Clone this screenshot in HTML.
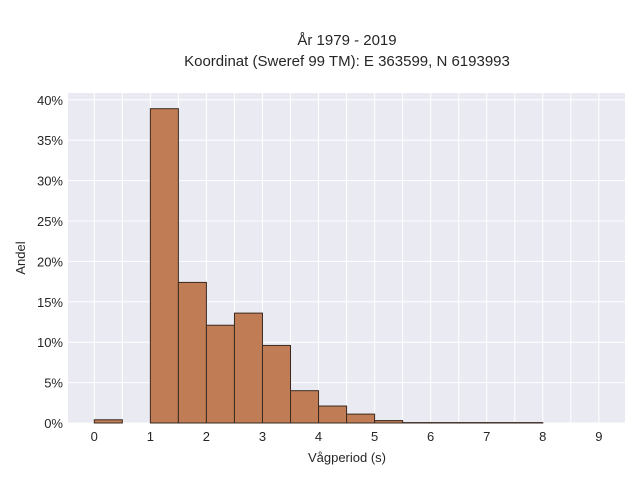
<!DOCTYPE html>
<html><head><meta charset="utf-8"><style>
body{margin:0;background:#fff;font-family:"Liberation Sans",sans-serif;}
svg text{font-family:"Liberation Sans",sans-serif;fill:#262626;}
</style></head><body>
<svg id="chart" width="640" height="480">
<text x="347" y="45" text-anchor="middle" font-size="15">År 1979 - 2019</text>
<text x="347" y="66" text-anchor="middle" font-size="15">Koordinat (Sweref 99 TM): E 363599, N 6193993</text>
<rect x="68" y="93" width="557" height="330" fill="#eaeaf2"/>
<g id="grid"></g><g id="bars"></g><g id="ticks"></g>
<text x="347" y="462" text-anchor="middle" font-size="13">Vågperiod (s)</text>
<text x="25" y="258" text-anchor="middle" font-size="13" transform="rotate(-90 25 258)">Andel</text>
</svg>
<script>
const binStarts=[0,0.5,1,1.5,2,2.5,3,3.5,4,4.5,5,5.5,6,6.5,7,7.5];
const binValues=[0.4,0,38.9,17.4,12.1,13.6,9.6,4.0,2.1,1.1,0.3,0.05,0.05,0.05,0.05,0.05];
const binWidth=0.5;
const xTicks=[0,1,2,3,4,5,6,7,8,9];
const yTicks=[0,5,10,15,20,25,30,35,40];
const yTickLabels=["0%","5%","10%","15%","20%","25%","30%","35%","40%"];
const X=v=>94.3+v*56.06, Y=v=>423-v*8.08;
const ns="http://www.w3.org/2000/svg";
function mk(t,a,p){const e=document.createElementNS(ns,t);for(const k in a)e.setAttribute(k,a[k]);document.getElementById(p).appendChild(e);return e;}
for(let v=-0.5;v<=9.5;v+=0.5){const x=X(v);if(x<68||x>625)continue;
 const l=mk('line',{x1:x,x2:x,y1:93,y2:423,stroke:'#fff','stroke-width':1},'grid');
 
 }
for(let v=0;v<=40;v+=5){const y=Y(v);
 const l=mk('line',{x1:68,x2:625,y1:y,y2:y,stroke:'#fff','stroke-width':1},'grid');
 
 }
binStarts.forEach((s,i)=>{const v=binValues[i];if(v<=0)return;
 const r=mk('rect',{x:X(s),y:Y(v),width:X(s+binWidth)-X(s),height:423-Y(v),fill:'#c07c55',stroke:'#3a2a20','stroke-width':1},'bars');
 
 });
xTicks.forEach(v=>{const t=mk('text',{x:X(v),y:441,'text-anchor':'middle','font-size':13},'ticks');t.textContent=v;
 
 });
yTicks.forEach((v,i)=>{const t=mk('text',{x:63,y:Y(v)+5,'text-anchor':'end','font-size':13},'ticks');t.textContent=yTickLabels[i];
 
 });
</script>
</body></html>
